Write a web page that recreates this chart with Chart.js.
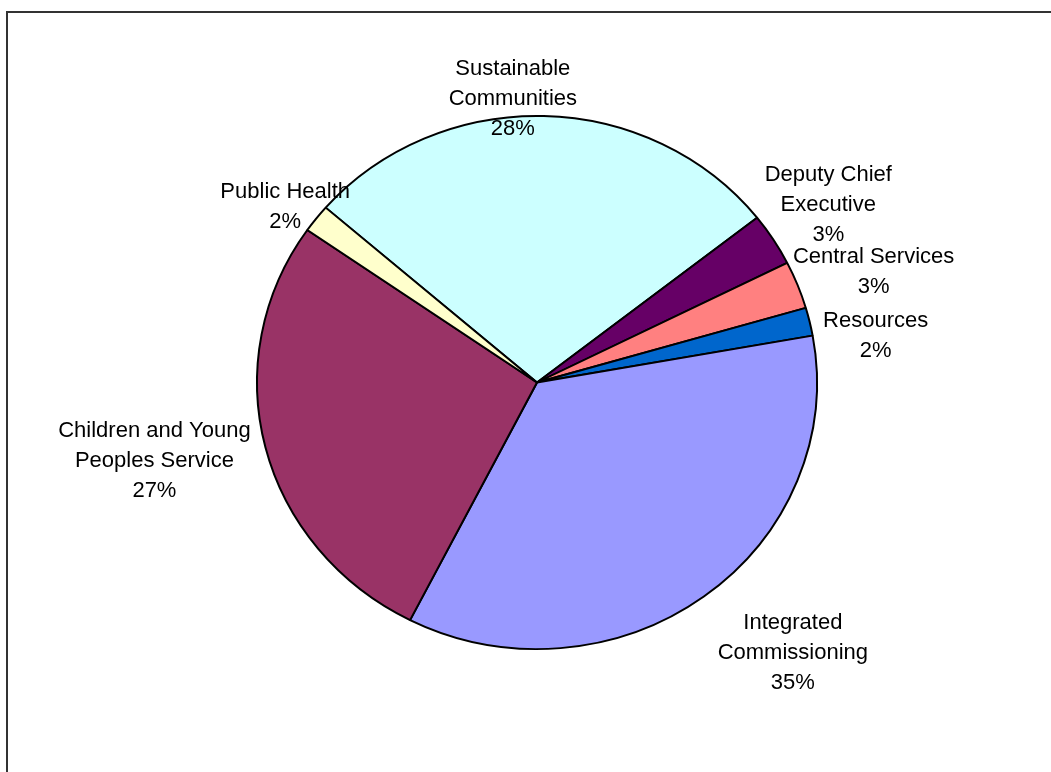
<!DOCTYPE html>
<html>
<head>
<meta charset="utf-8">
<script src="https://cdn.jsdelivr.net/npm/chart.js@4.4.1/dist/chart.umd.min.js"></script>
<style>
    html, body { margin: 0; padding: 0; background: #fff; overflow: hidden; }
    #wrap { position: relative; width: 1051px; height: 772px; }
    #frame {
        position: absolute; left: 6px; top: 11px;
        width: 1200px; height: 900px;
        border-left: 2px solid #333; border-top: 2px solid #333;
    }
    #chart { position: absolute; left: 0; top: 0; }
</style>
</head>
<body>
<div id="wrap">
    <div id="frame"></div>
    <canvas id="chart" width="1051" height="772"></canvas>
</div>
<script>
    // data
    var categories = [
        ['Sustainable', 'Communities'],
        ['Deputy Chief', 'Executive'],
        ['Central Services'],
        ['Resources'],
        ['Integrated', 'Commissioning'],
        ['Children and Young', 'Peoples Service'],
        ['Public Health']
    ];
    var shares = [28.0, 3.2, 2.9, 1.7, 35.3, 27.2, 1.7];
    var sliceColors = ['#CCFFFF', '#660066', '#FF8080', '#0066CC', '#9999FF', '#993366', '#FFFFCC'];

    // layout
    var squash = 0.952;          // pie is a little flatter than round
    var lineHeight = 30;
    // label block centre, relative to the slice's outer edge at its mid angle
    var labelOffsets = [[-31, -17], [55, -35], [76, -13], [66, 14], [89, 56], [-111, 14], [-31, -12]];

    var total = shares.reduce(function (acc, v) { return acc + v; }, 0);

    var squashPlugin = {
        id: 'squash',
        beforeDatasetsDraw: function (chart) {
            var arc = chart.getDatasetMeta(0).data[0];
            var ctx = chart.ctx;
            ctx.save();
            ctx.translate(arc.x, arc.y);
            ctx.scale(1, squash);
            ctx.translate(-arc.x, -arc.y);
        },
        afterDatasetsDraw: function (chart) {
            chart.ctx.restore();
        }
    };

    var labelPlugin = {
        id: 'sliceLabels',
        afterDraw: function (chart) {
            var ctx = chart.ctx;
            var arcs = chart.getDatasetMeta(0).data;
            ctx.save();
            ctx.font = '22px "Liberation Sans", Arial, sans-serif';
            ctx.fillStyle = '#000';
            ctx.textAlign = 'center';
            ctx.textBaseline = 'middle';
            arcs.forEach(function (arc, i) {
                var mid = (arc.startAngle + arc.endAngle) / 2;
                var ex = arc.x + Math.cos(mid) * arc.outerRadius;
                var ey = arc.y + Math.sin(mid) * arc.outerRadius * squash;
                var lines = categories[i].concat([Math.round(shares[i] / total * 100) + '%']);
                var cx = ex + labelOffsets[i][0];
                var cy = ey + labelOffsets[i][1];
                var y0 = cy - (lines.length - 1) * lineHeight / 2;
                lines.forEach(function (t, k) {
                    ctx.fillText(t, cx, y0 + k * lineHeight);
                });
            });
            ctx.restore();
        }
    };

    var ctx = document.getElementById('chart').getContext('2d');
    var chart = new Chart(ctx, {
        type: 'pie',
        data: {
            labels: categories.map(function (c) { return c.join(' '); }),
            datasets: [{
                data: shares,
                backgroundColor: sliceColors,
                borderColor: '#000',
                borderWidth: 2
            }]
        },
        options: {
            responsive: false,
            animation: false,
            rotation: -49,
            layout: {
                padding: { left: 256, right: 233, top: 101.5, bottom: 108.5 }
            },
            plugins: {
                legend: { display: false },
                tooltip: { enabled: false }
            }
        },
        plugins: [squashPlugin, labelPlugin]
    });
</script>
</body>
</html>
